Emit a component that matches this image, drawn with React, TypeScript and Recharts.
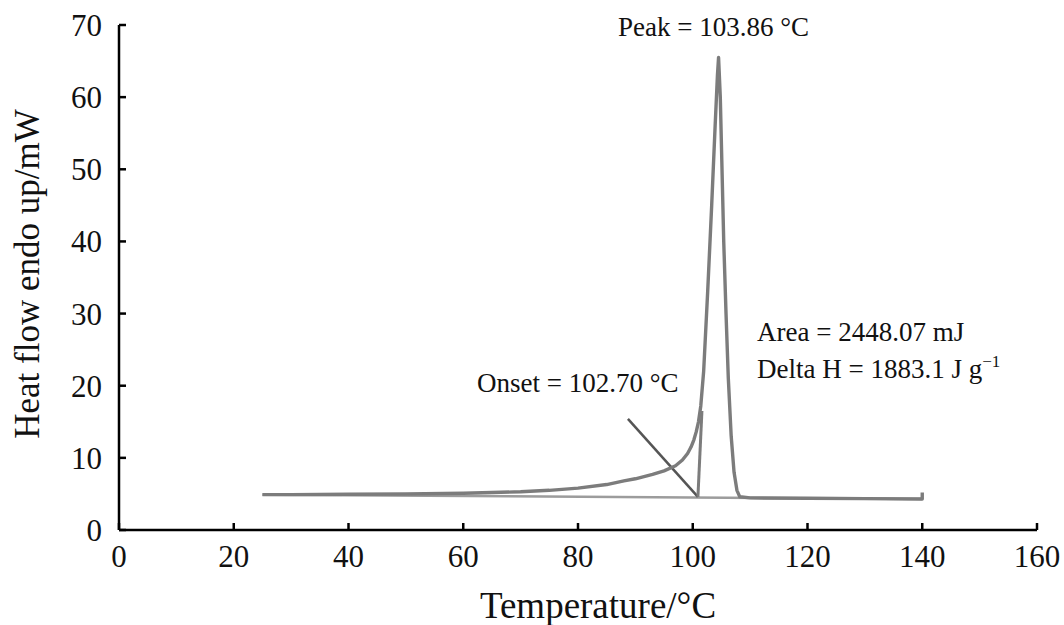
import { LineChart, Line, XAxis, YAxis } from 'recharts'

// DSC heat flow trace (temperature °C, heat flow mW)
const curveTemp = [25, 30, 40, 50, 60, 65, 70, 75, 80, 85, 88, 90, 93, 95, 97, 98.2, 99.1, 99.7, 100.2, 100.6, 101.0, 101.4, 101.9, 102.6, 103.3, 103.9, 104.3, 104.5, 104.8, 105.1, 105.4, 105.8, 106.2, 106.7, 107.2, 107.7, 108.2, 110, 120, 130, 140, 140]
const curveFlow = [4.9, 4.9, 4.95, 5.0, 5.1, 5.2, 5.3, 5.5, 5.8, 6.3, 6.8, 7.1, 7.7, 8.2, 8.9, 9.7, 10.6, 11.5, 12.5, 13.6, 15.0, 17.2, 22, 33, 45, 56, 63, 65.5, 60, 50, 40, 30, 21, 13, 8, 5.5, 4.6, 4.45, 4.4, 4.35, 4.3, 5.2]

// integration baseline
const baseTemp = [25, 140]
const baseFlow = [4.9, 4.3]

// leading edge of the peak down to the baseline
const legTemp = [100.9, 101.6]
const legFlow = [4.6, 16.5]

// onset tangent
const onsetTemp = [88.7, 100.9]
const onsetFlow = [15.4, 4.6]

const xTicks = [0, 20, 40, 60, 80, 100, 120, 140, 160]
const yTicks = [0, 10, 20, 30, 40, 50, 60, 70]

const pts = (t: number[], v: number[]) => t.map((x, i) => ({ t: x, v: v[i] }))

const serif = "'Liberation Serif', serif"

// eslint-disable-next-line @typescript-eslint/no-explicit-any
const XTick = (props: any) => (
  <text x={props.x} y={props.y} dy="0.71em" textAnchor="middle" fill="#111" fontFamily="Liberation Serif" fontSize={31}>
    {String(props.payload.value)}
  </text>
)

// eslint-disable-next-line @typescript-eslint/no-explicit-any
const YTick = (props: any) => (
  <text x={props.x} y={props.y} dy="0.355em" textAnchor="end" fill="#111" fontFamily="Liberation Serif" fontSize={31}>
    {String(props.payload.value)}
  </text>
)

export default function App() {
  return (
    <div style={{ position: 'absolute', left: 0, top: 0, width: 1064, height: 625, background: '#fff' }}>
      <LineChart width={1064} height={625} margin={{ top: 25, right: 27, bottom: 55, left: 59 }}>
        <XAxis
          type="number"
          dataKey="t"
          domain={[0, 160]}
          ticks={xTicks}
          height={40}
          stroke="#000"
          strokeWidth={2.5}
          tickSize={-7}
          tickMargin={22}
          tick={<XTick />}
          allowDuplicatedCategory={false}
        />
        <YAxis
          type="number"
          dataKey="v"
          domain={[0, 70]}
          ticks={yTicks}
          width={60}
          stroke="#000"
          strokeWidth={2.5}
          tickSize={-7}
          tickMargin={24}
          tick={<YTick />}
        />
        <Line data={pts(baseTemp, baseFlow)} dataKey="v" stroke="#9c9c9c" strokeWidth={2.5} dot={false} isAnimationActive={false} />
        <Line data={pts(onsetTemp, onsetFlow)} dataKey="v" stroke="#555" strokeWidth={2.5} dot={false} isAnimationActive={false} />
        <Line data={pts(legTemp, legFlow)} dataKey="v" stroke="#7c7c7c" strokeWidth={3} dot={false} isAnimationActive={false} />
        <Line data={pts(curveTemp, curveFlow)} dataKey="v" stroke="#7c7c7c" strokeWidth={3.4} strokeLinejoin="round" dot={false} isAnimationActive={false} />
      </LineChart>
      <svg width={1064} height={625} style={{ position: 'absolute', left: 0, top: 0, pointerEvents: 'none' }}>
        <g fontFamily={serif} fill="#111">
          <text x={598} y={618} fontSize={37} textAnchor="middle">Temperature/°C</text>
          <text transform="translate(39,274) rotate(-90)" fontSize={35} textAnchor="middle">Heat flow endo up/mW</text>
          <text x={618} y={36} fontSize={27}>Peak = 103.86 °C</text>
          <text x={477} y={392} fontSize={27}>Onset = 102.70 °C</text>
          <text x={757} y={341} fontSize={27}>Area = 2448.07 mJ</text>
          <text x={757} y={378} fontSize={27}>
            Delta H = 1883.1 J g<tspan fontSize={17} dy={-11}>−1</tspan>
          </text>
        </g>
      </svg>
    </div>
  )
}
